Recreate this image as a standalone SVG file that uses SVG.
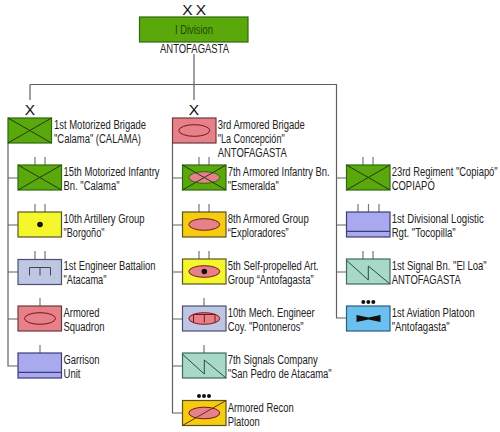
<svg xmlns="http://www.w3.org/2000/svg" width="500" height="432" viewBox="0 0 500 432">
<style>
text{font-family:"Liberation Sans",Arial,sans-serif;font-size:12px;fill:#222;}
.box{stroke-width:1.2;}
.gr{fill:#5aa80c;stroke:#2c6a10;}
.rd{fill:#e8808a;stroke:#6a3a3a;}
.yl{fill:#f6f62c;stroke:#55552a;}
.bg{fill:#bfc6e4;stroke:#4a5070;}
.lv{fill:#a9a9f0;stroke:#3c3c78;}
.tl{fill:#a8d8c8;stroke:#3f6a60;}
.gd{fill:#f5cc10;stroke:#5a5020;}
.sk{fill:#6cc0f0;stroke:#2a5a80;}
.el{fill:#e8808a;stroke:#701818;stroke-width:1;}
.ln{fill:none;stroke:#223a10;stroke-width:1;}
.tk{stroke:#777;stroke-width:1.2;fill:none;}
.con{stroke:#606060;stroke-width:1.2;fill:none;}
.x{font-size:15.5px;fill:#111;text-anchor:middle;}
</style>
<g id="connectors" class="con">
<path d="M194 54V100M30 84.5H336.5V318H346.5M30 84.5V100"/>
<path d="M8 143V366H18M8 178H18M8 225H18M8 272H18M8 319H18"/>
<path d="M172.5 143V413H182.5M172.5 178H182.5M172.5 225H182.5M172.5 272H182.5M172.5 319H182.5M172.5 366H182.5"/>
<path d="M336.5 178H346.5M336.5 225H346.5M336.5 272H346.5"/>
</g>
<g id="division">
<rect class="box gr" x="139.5" y="17" width="108.5" height="25"/>
<text x="175" y="34" textLength="38" lengthAdjust="spacingAndGlyphs" style="fill:#1c4a08">I Division</text>
<text class="x" x="187.500" y="15">X</text><text class="x" x="201" y="15">X</text>
<text x="160" y="53" textLength="69" lengthAdjust="spacingAndGlyphs">ANTOFAGASTA</text>
</g>
<g id="brigade1">
<text class="x" x="30" y="115">X</text>
<rect class="box gr" x="8" y="118" width="43.5" height="25"/>
<path class="ln" d="M8 118L51.5 143M8 143L51.5 118"/>
<text x="54" y="129" textLength="92" lengthAdjust="spacingAndGlyphs">1st Motorized Brigade</text>
<text x="54" y="143" textLength="87" lengthAdjust="spacingAndGlyphs">"Calama" (CALAMA)</text>
</g>
<g id="inf15">
<path class="tk" d="M35 157V165M45 157V165"/>
<rect class="box gr" x="18" y="165" width="43.5" height="25"/>
<path class="ln" d="M18 165L61.5 190M18 190L61.5 165"/>
<text x="63.5" y="176" textLength="96" lengthAdjust="spacingAndGlyphs">15th Motorized Infantry</text>
<text x="63.5" y="190" textLength="56" lengthAdjust="spacingAndGlyphs">Bn. "Calama"</text>
</g>
<g id="art10">
<path class="tk" d="M35 204V212M45 204V212"/>
<rect class="box yl" x="18" y="212" width="43.5" height="25"/>
<circle cx="40" cy="224.5" r="2.8" fill="#111"/>
<text x="63.5" y="223" textLength="81" lengthAdjust="spacingAndGlyphs">10th Artillery Group</text>
<text x="63.5" y="237" textLength="41" lengthAdjust="spacingAndGlyphs">"Borgoño"</text>
</g>
<g id="eng1">
<path class="tk" d="M35 251V259M45 251V259"/>
<rect class="box bg" x="18" y="259.500" width="43.5" height="25"/>
<path class="ln" d="M29.500 275.500V267.500H50.500V275.500M40 267.500V275.500" style="stroke:#444"/>
<text x="63.5" y="270" textLength="92" lengthAdjust="spacingAndGlyphs">1st Engineer Battalion</text>
<text x="63.5" y="284" textLength="43" lengthAdjust="spacingAndGlyphs">"Atacama"</text>
</g>
<g id="squadron">
<path class="tk" d="M40 298V306"/>
<rect class="box rd" x="18" y="306" width="43.5" height="25"/>
<ellipse class="el" cx="40" cy="318.500" rx="15.500" ry="5.800"/>
<text x="63.5" y="317" textLength="36" lengthAdjust="spacingAndGlyphs">Armored</text>
<text x="63.5" y="331" textLength="41" lengthAdjust="spacingAndGlyphs">Squadron</text>
</g>
<g id="garrison">
<path class="tk" d="M40 345V353"/>
<rect class="box lv" x="18" y="353" width="43.5" height="25"/>
<path d="M18 372.300H61.500" stroke="#3c3c78" stroke-width="1.200"/>
<text x="63.5" y="364" textLength="36" lengthAdjust="spacingAndGlyphs">Garrison</text>
<text x="63.5" y="378" textLength="17" lengthAdjust="spacingAndGlyphs">Unit</text>
</g>
<g id="brigade3">
<text class="x" x="194" y="115">X</text>
<rect class="box rd" x="172.500" y="118" width="43.500" height="25"/>
<ellipse class="el" cx="194.300" cy="130.500" rx="15.500" ry="5.800"/>
<text x="217.700" y="129" textLength="87" lengthAdjust="spacingAndGlyphs">3rd Armored Brigade</text>
<text x="217.700" y="143" textLength="67" lengthAdjust="spacingAndGlyphs">"La Concepción"</text>
<text x="217.700" y="157" textLength="69" lengthAdjust="spacingAndGlyphs">ANTOFAGASTA</text>
</g>
<g id="inf7">
<path class="tk" d="M199 157V165M209 157V165"/>
<rect class="box gr" x="182.500" y="165" width="43.500" height="25"/>
<ellipse class="el" cx="204.300" cy="177.500" rx="15.500" ry="5.800" style="stroke:#2c6a10"/>
<path class="ln" d="M182.500 165L226 190M182.500 190L226 165"/>
<text x="227.700" y="176" textLength="102" lengthAdjust="spacingAndGlyphs">7th Armored Infantry Bn.</text>
<text x="227.700" y="190" textLength="51" lengthAdjust="spacingAndGlyphs">"Esmeralda"</text>
</g>
<g id="arm8">
<path class="tk" d="M199 204V212M209 204V212"/>
<rect class="box gd" x="182.500" y="212" width="43.500" height="25"/>
<ellipse class="el" cx="204.300" cy="224.500" rx="15.500" ry="5.800"/>
<text x="227.700" y="223" textLength="81" lengthAdjust="spacingAndGlyphs">8th Armored Group</text>
<text x="227.700" y="237" textLength="61" lengthAdjust="spacingAndGlyphs">“Exploradores”</text>
</g>
<g id="art5">
<path class="tk" d="M199 251V259M209 251V259"/>
<rect class="box yl" x="182.500" y="259" width="43.500" height="25"/>
<ellipse class="el" cx="204.300" cy="271.500" rx="15.500" ry="5.800"/>
<circle cx="204.300" cy="271.500" r="2.800" fill="#111"/>
<text x="227.700" y="270" textLength="91" lengthAdjust="spacingAndGlyphs">5th Self-propelled Art.</text>
<text x="227.700" y="284" textLength="86" lengthAdjust="spacingAndGlyphs">Group “Antofagasta”</text>
</g>
<g id="eng10">
<path class="tk" d="M204 298V306"/>
<rect class="box bg" x="182.500" y="306" width="43.500" height="25"/>
<ellipse class="el" cx="204.300" cy="318.500" rx="15.500" ry="5.800"/>
<path class="ln" d="M193.500 322.500V314.500H215V322.500M204.300 314.500V322.500" style="stroke:#701818"/>
<text x="227.700" y="317" textLength="87" lengthAdjust="spacingAndGlyphs">10th Mech. Engineer</text>
<text x="227.700" y="331" textLength="76" lengthAdjust="spacingAndGlyphs">Coy. "Pontoneros"</text>
</g>
<g id="sig7">
<path class="tk" d="M204 345V353"/>
<rect class="box tl" x="182.500" y="353" width="43.500" height="25"/>
<path class="ln" d="M182.500 354.300L204.300 374V360L226 378" style="stroke:#2c4a44"/>
<text x="227.700" y="364" textLength="90" lengthAdjust="spacingAndGlyphs">7th Signals Company</text>
<text x="227.700" y="378" textLength="104" lengthAdjust="spacingAndGlyphs">"San Pedro de Atacama"</text>
</g>
<g id="recon">
<circle cx="199" cy="396" r="2" fill="#111"/><circle cx="204" cy="396" r="2" fill="#111"/><circle cx="209" cy="396" r="2" fill="#111"/>
<rect class="box gd" x="182.500" y="400.500" width="43.500" height="25"/>
<ellipse class="el" cx="204.300" cy="413" rx="15.500" ry="5.800"/>
<path class="ln" d="M182.500 425.500L226 400.500" style="stroke:#5a3010"/>
<text x="227.700" y="411.500" textLength="66" lengthAdjust="spacingAndGlyphs">Armored Recon</text>
<text x="227.700" y="425.500" textLength="32" lengthAdjust="spacingAndGlyphs">Platoon</text>
</g>
<g id="reg23">
<path class="tk" d="M363 157V165M373 157V165"/>
<rect class="box gr" x="346.500" y="165" width="43.500" height="25"/>
<path class="ln" d="M346.500 165L390 190M346.500 190L390 165"/>
<g transform="translate(391.700 0) scale(.8 1)">
<text x="0" y="176" textLength="132.500" lengthAdjust="spacingAndGlyphs">23rd Regiment "Copiapó"</text>
<text x="0" y="190" textLength="53.800" lengthAdjust="spacingAndGlyphs">COPIAPÓ</text>
</g>
</g>
<g id="log1">
<path class="tk" d="M358 204V212M368.500 204V212M379 204V212"/>
<rect class="box lv" x="346.500" y="212" width="43.500" height="25"/>
<path d="M346.500 231.300H390" stroke="#3c3c78" stroke-width="1.200"/>
<g transform="translate(391.700 0) scale(.8 1)">
<text x="0" y="223" textLength="115" lengthAdjust="spacingAndGlyphs">1st Divisional Logistic</text>
<text x="0" y="237" textLength="80" lengthAdjust="spacingAndGlyphs">Rgt. "Tocopilla"</text>
</g>
</g>
<g id="sig1">
<path class="tk" d="M363 251V259M373 251V259"/>
<rect class="box tl" x="346.500" y="259" width="43.500" height="25"/>
<path class="ln" d="M346.500 260.300L368.300 280V266L390 284" style="stroke:#2c4a44"/>
<g transform="translate(391.700 0) scale(.8 1)">
<text x="0" y="270" textLength="118.800" lengthAdjust="spacingAndGlyphs">1st Signal Bn. "El Loa"</text>
<text x="0" y="284" textLength="86.300" lengthAdjust="spacingAndGlyphs">ANTOFAGASTA</text>
</g>
</g>
<g id="avi1">
<circle cx="363.300" cy="302" r="2" fill="#111"/><circle cx="368.300" cy="302" r="2" fill="#111"/><circle cx="373.300" cy="302" r="2" fill="#111"/>
<rect class="box sk" x="346.500" y="306" width="43.500" height="25"/>
<path d="M356.500 315L368.500 317.500L380.500 315V322L368.500 319.500L356.500 322Z" fill="#111"/>
<g transform="translate(391.700 0) scale(.8 1)">
<text x="0" y="317" textLength="103.800" lengthAdjust="spacingAndGlyphs">1st Aviation Platoon</text>
<text x="0" y="331" textLength="72.500" lengthAdjust="spacingAndGlyphs">"Antofagasta"</text>
</g>
</g>
</svg>
